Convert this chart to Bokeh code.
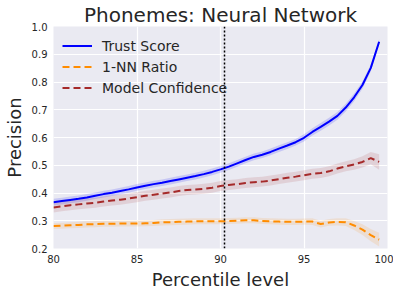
from bokeh.plotting import figure
from bokeh.models import Span, Legend, LegendItem, FixedTicker, PrintfTickFormatter, Range1d
from bokeh.embed import file_html
from bokeh.resources import INLINE

percentiles = [80.0, 80.5, 81.0, 81.5, 82.0, 82.5, 83.0, 83.5, 84.0, 84.5,
               85.0, 85.5, 86.0, 86.5, 87.0, 87.5, 88.0, 88.5, 89.0, 89.5,
               90.0, 90.5, 91.0, 91.5, 92.0, 92.5, 93.0, 93.5, 94.0, 94.5,
               95.0, 95.5, 96.0, 96.5, 97.0, 97.5, 98.0, 98.5, 99.0, 99.5]

trust_score = [0.367, 0.371, 0.375, 0.379, 0.384, 0.390, 0.396, 0.401, 0.407, 0.413,
               0.420, 0.426, 0.432, 0.437, 0.443, 0.449, 0.455, 0.461, 0.468, 0.476,
               0.485, 0.495, 0.507, 0.519, 0.530, 0.538, 0.548, 0.560, 0.571, 0.583,
               0.599, 0.620, 0.638, 0.657, 0.678, 0.708, 0.745, 0.789, 0.851, 0.945]
trust_err = [0.012] * 30 + [0.013, 0.013, 0.014, 0.014, 0.014, 0.014, 0.014, 0.013, 0.012, 0.010]

nn_ratio = [0.281, 0.282, 0.284, 0.285, 0.287, 0.288, 0.289, 0.289, 0.290, 0.290,
            0.290, 0.291, 0.292, 0.294, 0.295, 0.296, 0.297, 0.298, 0.298, 0.298,
            0.298, 0.299, 0.300, 0.302, 0.302, 0.299, 0.298, 0.297, 0.296, 0.296,
            0.297, 0.297, 0.288, 0.294, 0.296, 0.295, 0.283, 0.268, 0.248, 0.232]
nn_err = [0.011] * 30 + [0.011, 0.012, 0.012, 0.012, 0.013, 0.014, 0.016, 0.019, 0.022, 0.025]

model_conf = [0.348, 0.352, 0.356, 0.359, 0.362, 0.365, 0.369, 0.373, 0.376, 0.380,
              0.385, 0.390, 0.394, 0.398, 0.402, 0.407, 0.411, 0.413, 0.415, 0.419,
              0.425, 0.429, 0.432, 0.436, 0.439, 0.441, 0.445, 0.450, 0.455, 0.459,
              0.464, 0.469, 0.472, 0.478, 0.488, 0.496, 0.503, 0.512, 0.526, 0.512]
conf_err = [0.018] * 30 + [0.018, 0.018, 0.018, 0.018, 0.018, 0.018, 0.019, 0.020, 0.022, 0.028]

cutoff = 90.24
x_ticks = [80, 85, 90, 95, 100]
y_ticks = [0.2, 0.3, 0.4, 0.5, 0.6, 0.7, 0.8, 0.9, 1.0]

FONT = "DejaVu Sans"
TXT = "#262626"

p = figure(frame_width=334, frame_height=222, output_backend="svg", toolbar_location=None,
           x_range=Range1d(80, 100), y_range=Range1d(0.2, 1.0),
           min_border_left=50, min_border_right=6, min_border_top=19, min_border_bottom=40,
           background_fill_color="#EAEAF2", border_fill_color="white", outline_line_color=None)

p.title.text = "Phonemes: Neural Network"
p.title.align = "center"
p.title.text_font = FONT
p.title.text_font_size = "20px"
p.title.text_font_style = "normal"
p.title.text_color = TXT
p.title.standoff = 0
p.title.offset = 0

for ax in (p.xaxis[0], p.yaxis[0]):
    ax.axis_line_color = None
    ax.major_tick_line_color = None
    ax.minor_tick_line_color = None
    ax.major_tick_out = 0
    ax.major_tick_in = 0
    ax.minor_tick_out = 0
    ax.minor_tick_in = 0
    ax.major_label_text_font = FONT
    ax.major_label_text_font_size = "10px"
    ax.major_label_text_color = TXT
    ax.axis_label_text_font = FONT
    ax.axis_label_text_font_size = "18px"
    ax.axis_label_text_font_style = "normal"
    ax.axis_label_text_color = TXT
    ax.major_label_standoff = 6

p.xaxis.axis_label = "Percentile level"
p.yaxis.axis_label = "Precision"
p.xaxis.ticker = FixedTicker(ticks=x_ticks)
p.yaxis.ticker = FixedTicker(ticks=y_ticks)
p.yaxis.formatter = PrintfTickFormatter(format="%.1f")
p.xaxis.axis_label_standoff = 3
p.yaxis.axis_label_standoff = 4

p.grid.grid_line_color = "white"
p.grid.grid_line_width = 1.2

def band(y, e):
    return [a - b for a, b in zip(y, e)], [a + b for a, b in zip(y, e)]

lo, hi = band(trust_score, trust_err)
p.varea(x=percentiles, y1=lo, y2=hi, fill_color="blue", fill_alpha=0.15)
lo, hi = band(nn_ratio, nn_err)
p.varea(x=percentiles, y1=lo, y2=hi, fill_color="darkorange", fill_alpha=0.13)
lo, hi = band(model_conf, conf_err)
p.varea(x=percentiles, y1=lo, y2=hi, fill_color="brown", fill_alpha=0.13)

r1 = p.line(percentiles, trust_score, line_color="blue", line_width=2)
r2 = p.line(percentiles, nn_ratio, line_color="darkorange", line_width=2, line_dash="7 4")
r3 = p.line(percentiles, model_conf, line_color="brown", line_width=2, line_dash="7 4")

p.add_layout(Span(location=cutoff, dimension="height", line_color="black",
                  line_width=1.5, line_dash="2 2"))

legend = Legend(items=[LegendItem(label="Trust Score", renderers=[r1]),
                       LegendItem(label="1-NN Ratio", renderers=[r2]),
                       LegendItem(label="Model Confidence", renderers=[r3])],
                location="top_left", margin=9, padding=0, spacing=0,
                label_height=21, glyph_height=21, glyph_width=30, label_standoff=10,
                background_fill_alpha=0, border_line_alpha=0,
                label_text_font=FONT, label_text_font_size="14px", label_text_color=TXT)
p.add_layout(legend)

open("out.html", "w").write(file_html(p, INLINE))
